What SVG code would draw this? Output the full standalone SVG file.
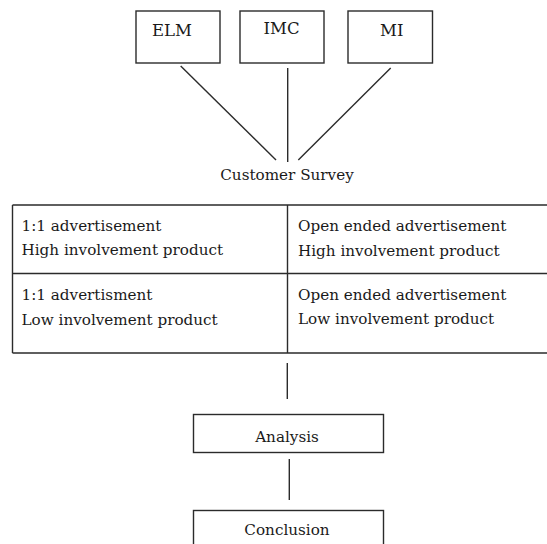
<svg xmlns="http://www.w3.org/2000/svg" width="547" height="544" viewBox="0 0 547 544">
<style>
.box{fill:#fff;stroke:#2b2b2b;stroke-width:1.4}
.ln{stroke:#2b2b2b;stroke-width:1.4;fill:none}
.t{font-family:"DejaVu Serif","Liberation Serif",serif;font-size:15.2px;fill:#1a1a1a}
.h{font-family:"DejaVu Serif","Liberation Serif",serif;font-size:16.5px;fill:#1a1a1a}
</style>
<rect width="547" height="544" fill="#fff"/>
<g id="connectors">
<line class="ln" x1="180.7" y1="66" x2="276" y2="160"/>
<line class="ln" x1="287.7" y1="68" x2="287.7" y2="162"/>
<line class="ln" x1="390.7" y1="68" x2="298.3" y2="160"/>
<line class="ln" x1="287.3" y1="363" x2="287.3" y2="399"/>
<line class="ln" x1="289.3" y1="459" x2="289.3" y2="500"/>
</g>
<g id="elm"><rect class="box" x="136" y="11" width="84" height="52"/><text class="h" x="152" y="36">ELM</text></g>
<g id="imc"><rect class="box" x="240" y="11" width="84" height="52"/><text class="h" x="263.5" y="34">IMC</text></g>
<g id="mi"><rect class="box" x="348" y="11" width="84.5" height="52"/><text class="h" x="380" y="36">MI</text></g>
<g id="survey"><text class="t" x="287" y="180" text-anchor="middle">Customer Survey</text></g>
<g id="table">
<path class="ln" d="M12.5 205 H549 M12.5 273.5 H549 M12.5 353 H549 M12.5 205 V353 M287.5 205 V353"/>
<text class="t" x="21.5" y="231">1:1 advertisement</text>
<text class="t" x="21.5" y="255">High involvement product</text>
<text class="t" x="21.5" y="300">1:1 advertisment</text>
<text class="t" x="21.5" y="324.5">Low involvement product</text>
<text class="t" x="298" y="231">Open ended advertisement</text>
<text class="t" x="298" y="255.5">High involvement product</text>
<text class="t" x="298" y="299.5">Open ended advertisement</text>
<text class="t" x="298" y="324">Low involvement product</text>
</g>
<g id="analysis"><rect class="box" x="193.5" y="414.5" width="190" height="38"/><text class="t" x="287" y="441.5" text-anchor="middle">Analysis</text></g>
<g id="conclusion"><rect class="box" x="193.5" y="510.5" width="190" height="50"/><text class="t" x="287" y="535" text-anchor="middle">Conclusion</text></g>
</svg>
